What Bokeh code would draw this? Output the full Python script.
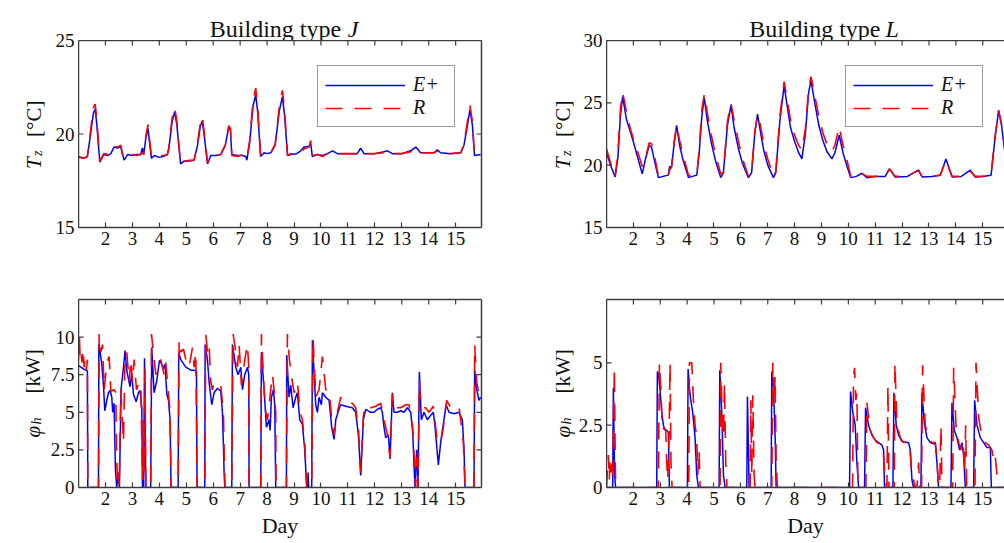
import math
from bokeh.plotting import figure
from bokeh.models import (Range1d, FixedTicker, LinearAxis, Legend,
                          LegendItem, CustomJSTickFormatter)
from bokeh.core.properties import value
from bokeh.layouts import column, row
from bokeh.embed import file_html
from bokeh.resources import INLINE

# ---------------- data ----------------
day_ticks = [2, 3, 4, 5, 6, 7, 8, 9, 10, 11, 12, 13, 14, 15]
tz_ticks_j = [15, 20, 25]
tz_ticks_l = [15, 20, 25, 30]
ph_ticks_j = [0, 2.5, 5, 7.5, 10]
ph_ticks_l = [0, 2.5, 5]

# Building J, zone temperature
tj_day = [1.0, 1.2, 1.33, 1.45, 1.55, 1.62, 1.68, 1.79, 1.94, 2.1,
          2.2, 2.32, 2.45, 2.57, 2.62, 2.69, 2.82, 3.0, 3.15, 3.31,
          3.37, 3.42, 3.5, 3.58, 3.64, 3.71, 3.81, 4.0, 4.15, 4.30,
          4.36, 4.47, 4.57, 4.65, 4.79, 4.92, 5.1, 5.29, 5.42, 5.52,
          5.59, 5.66, 5.79, 5.91, 6.1, 6.28, 6.38, 6.45, 6.58, 6.64,
          6.69, 6.9, 7.1, 7.21, 7.25, 7.35, 7.48, 7.58, 7.65, 7.76,
          7.89, 8.0, 8.14, 8.3, 8.45, 8.57, 8.65, 8.76, 8.88, 9.1,
          9.25, 9.37, 9.56, 9.62, 9.68, 9.87, 10.05, 10.24, 10.43, 10.61,
          11.0, 11.35, 11.47, 11.6, 12.0, 12.34, 12.47, 12.65, 13.0, 13.33,
          13.52, 13.7, 14.2, 14.32, 14.44, 14.8, 15.19, 15.31, 15.42, 15.53,
          15.62, 15.70, 15.93]
tj_e = [18.75, 18.7, 18.8, 20.0, 21.1, 21.35, 20.5, 18.5, 18.9, 18.85,
        18.95, 19.3, 19.25, 19.3, 19.0, 18.6, 18.9, 18.85, 18.9, 18.9,
        19.25, 18.9, 19.8, 20.3, 19.5, 18.7, 18.85, 18.75, 18.8, 18.9,
        19.3, 20.6, 21.2, 20.5, 18.4, 18.55, 18.55, 18.6, 19.4, 20.4,
        20.7, 20.0, 18.4, 18.85, 18.85, 18.9, 19.2, 19.4, 20.4, 20.2,
        18.9, 18.85, 18.85, 18.8, 18.6, 19.5, 21.5, 22.1, 21.2, 18.8,
        19.0, 18.95, 19.0, 19.4, 21.2, 22.0, 21.0, 18.85, 18.9, 18.95,
        19.1, 19.3, 19.35, 19.5, 18.8, 18.9, 18.85, 18.95, 19.1, 18.95,
        18.95, 18.95, 19.25, 18.95, 18.95, 19.05, 19.1, 18.95, 18.95, 19.1,
        19.3, 19.0, 19.0, 19.15, 19.0, 18.95, 19.0, 19.4, 20.3, 21.3,
        20.5, 18.85, 18.9]
tj_r = [18.8, 18.7, 18.8, 20.2, 21.4, 21.6, 20.8, 18.55, 18.95, 18.9,
        18.95, 19.35, 19.3, 19.4, 19.0, 18.7, 18.85, 18.9, 18.85, 18.9,
        19.0, 18.9, 19.9, 20.5, 19.7, 18.75, 18.85, 18.8, 18.85, 18.9,
        19.3, 20.8, 21.43, 20.7, 18.4, 18.5, 18.6, 18.6, 19.5, 20.6,
        20.94, 20.2, 18.45, 18.85, 18.85, 18.9, 19.2, 19.4, 20.45, 20.3,
        18.85, 18.8, 18.9, 18.85, 18.7, 19.6, 21.8, 22.45, 21.5, 18.85,
        18.95, 18.95, 19.0, 19.45, 21.4, 22.33, 21.3, 18.85, 18.95, 18.9,
        19.0, 19.2, 19.3, 19.65, 18.85, 18.9, 18.8, 18.95, 19.0, 18.95,
        18.95, 18.95, 19.1, 18.95, 18.95, 19.0, 19.05, 18.95, 18.95, 19.05,
        19.2, 19.0, 19.0, 19.1, 19.0, 18.95, 19.0, 19.5, 20.5, 21.52,
        20.7, 18.9, 18.9]

# Building L, zone temperature
tl_day = [1.0, 1.15, 1.32, 1.42, 1.52, 1.60, 1.75, 1.9, 2.05, 2.2,
          2.33, 2.45, 2.59, 2.68, 2.8, 2.93, 3.1, 3.30, 3.35, 3.42,
          3.52, 3.61, 3.72, 3.85, 4.05, 4.2, 4.36, 4.45, 4.55, 4.64,
          4.75, 4.9, 5.05, 5.25, 5.35, 5.5, 5.63, 5.75, 5.9, 6.05,
          6.28, 6.4, 6.52, 6.62, 6.72, 6.85, 7.0, 7.21, 7.3, 7.45,
          7.61, 7.72, 7.85, 8.0, 8.15, 8.27, 8.4, 8.52, 8.61, 8.75,
          8.9, 9.05, 9.2, 9.39, 9.5, 9.66, 9.8, 9.95, 10.09, 10.3,
          10.5, 10.69, 11.0, 11.37, 11.53, 11.74, 12.2, 12.61, 12.74, 13.1,
          13.42, 13.63, 13.86, 14.2, 14.54, 14.72, 15.0, 15.31, 15.45, 15.59,
          15.7, 15.80, 15.95]
tl_e = [21.0, 20.0, 19.05, 20.5, 24.0, 25.5, 23.6, 22.6, 21.5, 20.3,
        19.3, 20.5, 21.6, 21.4, 20.2, 19.0, 19.1, 19.2, 19.9, 19.8,
        21.8, 23.2, 21.6, 20.4, 19.0, 19.1, 19.2, 21.0, 24.0, 25.4,
        23.6, 21.8, 20.4, 19.0, 19.4, 23.2, 24.8, 23.0, 21.4, 20.2,
        19.0, 19.4, 22.6, 24.1, 22.8, 21.2, 20.0, 19.0, 19.4, 23.5,
        26.4, 24.8, 23.0, 21.9, 21.0, 20.5, 22.5, 25.8, 26.8, 25.0,
        23.2, 22.0, 21.1, 20.5, 21.0, 22.4, 21.0, 19.9, 19.0, 19.1,
        19.35, 19.0, 19.1, 19.1, 19.7, 19.05, 19.1, 19.6, 19.05, 19.1,
        19.2, 20.5, 19.05, 19.1, 19.6, 19.05, 19.1, 19.2, 22.0, 24.4,
        23.2, 21.4, 20.0]
tl_r = [21.3, 20.2, 19.1, 20.8, 24.5, 25.85, 24.2, 22.8, 21.8, 20.8,
        19.9, 20.6, 21.8, 21.7, 20.6, 19.1, 19.1, 19.2, 19.6, 19.9,
        21.9, 23.2, 22.0, 20.8, 19.2, 19.1, 19.2, 21.3, 24.5, 25.7,
        24.2, 22.4, 20.9, 19.3, 19.4, 23.5, 25.0, 23.6, 22.0, 20.6,
        19.1, 19.5, 22.7, 24.0, 23.3, 21.7, 20.5, 19.1, 19.5, 23.9,
        26.7, 25.3, 23.6, 22.4, 21.6, 21.2, 22.9, 26.1, 27.1, 25.6,
        23.9, 22.6, 21.7, 21.1, 21.6, 23.1, 21.6, 20.4, 19.1, 19.1,
        19.35, 19.1, 19.1, 19.1, 19.7, 19.1, 19.1, 19.6, 19.1, 19.1,
        19.2, 20.4, 19.1, 19.1, 19.5, 19.1, 19.1, 19.2, 22.2, 24.4,
        23.3, 21.8, 20.3]

# Building J, heating power (E+)
hj_day_e = [1.00, 1.087, 1.21, 1.33, 1.345, 1.742, 1.755, 1.865, 1.93, 1.976,
            2.05, 2.113, 2.173, 2.236, 2.27, 2.32, 2.373, 2.42, 2.48, 2.52,
            2.58, 2.67, 2.73, 2.79, 2.855, 2.915, 2.978, 3.04, 3.14, 3.226,
            3.286, 3.35, 3.375, 3.42, 3.45, 3.50, 3.68, 3.72, 3.806, 3.905,
            4.005, 4.09, 4.15, 4.21, 4.28, 4.34, 4.40, 4.435, 4.70, 4.72,
            4.797, 4.983, 5.168, 5.292, 5.38, 5.40, 5.688, 5.70, 5.787, 5.848,
            5.947, 6.034, 6.158, 6.281, 6.343, 6.38, 6.405, 6.43, 6.69, 6.714,
            6.838, 6.925, 7.024, 7.085, 7.172, 7.271, 7.32, 7.333, 7.766, 7.79,
            7.889, 7.976, 8.075, 8.112, 8.161, 8.236, 8.285, 8.322, 8.718, 8.73,
            8.817, 8.879, 8.965, 9.064, 9.126, 9.213, 9.312, 9.398, 9.473, 9.51,
            9.522, 9.545, 9.658, 9.683, 9.806, 9.868, 9.93, 10.017, 10.054, 10.178,
            10.301, 10.40, 10.487, 10.549, 10.635, 10.734, 10.92, 11.167, 11.291, 11.39,
            11.476, 11.575, 11.662, 11.847, 11.971, 12.095, 12.218, 12.28, 12.342, 12.404,
            12.503, 12.565, 12.651, 12.713, 12.837, 12.96, 13.084, 13.208, 13.332, 13.406,
            13.455, 13.493, 13.554, 13.603, 13.653, 13.727, 13.826, 13.949, 14.073, 14.172,
            14.221, 14.296, 14.358, 14.445, 14.507, 14.568, 14.643, 14.754, 14.939, 15.125,
            15.249, 15.311, 15.348, 15.682, 15.707, 15.781, 15.868, 15.929]
hj_e = [8.1, 8.0, 7.85, 7.75, 0, 0, 9.55, 8.2, 6.7, 5.1,
        5.8, 6.3, 6.45, 6.0, 5.0, 5.6, 1.1, 0, 1.0, 0,
        6.55, 8.0, 9.1, 7.8, 7.2, 6.7, 7.6, 6.2, 5.7, 6.3,
        6.45, 5.3, 0, 0, 8.6, 0, 0, 9.3, 6.3, 7.1,
        8.45, 8.2, 7.9, 8.2, 6.2, 5.8, 4.5, 0, 0, 9.0,
        8.5, 8.0, 7.8, 7.8, 7.7, 0, 0, 9.5, 8.5, 7.0,
        5.5, 6.3, 6.6, 6.4, 5.0, 2.8, 1.0, 0, 0, 9.5,
        8.0, 7.5, 8.0, 6.5, 7.5, 8.0, 7.5, 0, 0, 9.0,
        6.5, 4.0, 4.5, 3.8, 6.0, 6.5, 5.5, 0, 0, 8.8,
        6.0, 6.8, 5.3, 6.0, 6.3, 4.5, 4.2, 2.5, 0, 0,
        1.0, 0, 0, 9.8, 5.5, 5.0, 6.0, 5.5, 6.3, 6.0,
        5.8, 4.0, 3.2, 4.5, 5.0, 5.5, 5.4, 5.3, 5.0, 3.5,
        0.8, 4.5, 5.2, 5.0, 5.0, 5.2, 5.3, 5.0, 4.0, 3.3,
        3.5, 1.9, 6.3, 5.0, 5.0, 5.1, 5.0, 5.3, 5.0, 3.7,
        1.5, 0, 2.5, 0, 7.7, 4.5, 5.0, 4.5, 4.8, 5.0,
        4.3, 2.8, 1.5, 3.0, 3.8, 4.5, 5.5, 5.0, 4.9, 5.0,
        4.5, 2.5, 0, 0, 7.8, 6.5, 5.8, 6.0]

# Building J, heating power (R)
hj_day_r = [1.00, 1.03, 1.06, 1.09, 1.13, 1.17, 1.21, 1.25, 1.29, 1.33,
            1.345, 1.742, 1.767, 1.829, 1.891, 1.952, 2.051, 2.138, 2.20, 2.323,
            2.385, 2.41, 2.447, 2.472, 2.509, 2.571, 2.67, 2.719, 2.793, 2.88,
            2.942, 3.004, 3.066, 3.152, 3.251, 3.313, 3.35, 3.375, 3.41, 3.44,
            3.47, 3.50, 3.68, 3.709, 3.808, 3.87, 3.956, 4.055, 4.179, 4.241,
            4.30, 4.40, 4.435, 4.70, 4.735, 4.797, 4.896, 4.983, 5.106, 5.23,
            5.292, 5.354, 5.40, 5.688, 5.725, 5.787, 5.848, 5.91, 5.972, 6.034,
            6.158, 6.281, 6.38, 6.405, 6.44, 6.69, 6.739, 6.801, 6.90, 6.962,
            7.048, 7.172, 7.271, 7.32, 7.333, 7.766, 7.79, 7.889, 7.951, 8.013,
            8.199, 8.26, 8.322, 8.334, 8.718, 8.755, 8.829, 8.94, 9.002, 9.126,
            9.225, 9.312, 9.398, 9.473, 9.658, 9.708, 9.806, 9.93, 10.054, 10.178,
            10.301, 10.40, 10.487, 10.61, 10.734, 10.92, 11.167, 11.291, 11.39, 11.476,
            11.575, 11.662, 11.847, 12.033, 12.218, 12.342, 12.466, 12.565, 12.651, 12.775,
            12.96, 13.146, 13.27, 13.406, 13.517, 13.554, 13.603, 13.653, 13.727, 13.888,
            14.011, 14.172, 14.321, 14.445, 14.544, 14.667, 14.816, 15.125, 15.286, 15.348,
            15.682, 15.707, 15.781, 15.868, 15.929]
hj_r = [8.5, 10.2, 8.6, 9.0, 8.3, 9.2, 8.0, 8.6, 7.8, 8.5,
        0, 0, 10.2, 9.0, 9.5, 6.5, 8.3, 8.7, 6.4, 6.5,
        6.3, 2.5, 0.2, 1.0, 0, 6.5, 3.0, 8.0, 9.0, 7.0,
        8.5, 7.0, 8.5, 6.5, 7.0, 6.8, 3.0, 0.5, 4.5, 1.0,
        7.9, 0, 0, 10.2, 8.5, 7.5, 8.3, 8.5, 7.5, 8.3,
        7.0, 5.0, 0, 0, 9.8, 9.0, 9.2, 8.5, 8.0, 9.3,
        8.0, 9.0, 0, 0, 10.2, 9.0, 9.5, 7.0, 6.5, 7.0,
        7.0, 6.8, 5.0, 2.5, 0, 0, 10.2, 9.5, 8.0, 9.5,
        6.8, 8.5, 9.5, 8.0, 0, 0, 10.2, 6.5, 5.0, 4.5,
        7.5, 6.5, 5.0, 0, 0, 10.2, 8.5, 7.0, 6.3, 7.0,
        5.0, 4.5, 3.0, 0, 0, 10.0, 6.0, 6.5, 8.7, 6.5,
        6.5, 4.5, 3.5, 5.0, 6.0, 5.6, 5.6, 5.3, 4.0, 1.0,
        4.8, 5.5, 5.3, 5.4, 5.6, 4.5, 3.5, 2.0, 6.2, 5.3,
        5.3, 5.5, 5.5, 4.0, 0, 2.0, 0, 7.0, 5.3, 5.3,
        5.0, 5.4, 3.0, 3.0, 4.0, 5.8, 5.3, 5.4, 3.0, 0,
        0, 9.5, 7.0, 6.2, 6.5]

# Building L, heating power (E+)
hl_day_e = [1.00, 1.23, 1.255, 1.30, 1.34, 2.868, 2.893, 2.94, 2.993, 3.055,
            3.117, 3.179, 3.241, 3.303, 3.34, 4.011, 4.036, 4.085, 4.135, 4.209,
            4.296, 4.358, 4.42, 5.19, 5.215, 5.29, 5.352, 5.413, 6.22, 6.245,
            6.307, 7.126, 7.151, 7.214, 7.276, 7.313, 10.044, 10.081, 10.168, 10.255,
            10.317, 10.38, 10.603, 10.64, 10.752, 10.876, 11.0, 11.124, 11.248, 11.31,
            11.347, 11.658, 11.695, 11.782, 11.869, 11.993, 12.117, 12.242, 12.304, 12.366,
            12.428, 12.7, 12.738, 12.825, 12.924, 13.048, 13.172, 13.234, 13.297, 13.359,
            13.818, 13.855, 13.942, 14.041, 14.14, 14.227, 14.289, 14.352, 14.662, 14.699,
            14.786, 14.91, 15.034, 15.158, 15.283, 15.32, 15.95]
hl_e = [0, 0, 4.0, 0.5, 0, 0, 4.65, 4.5, 3.9, 3.0,
        2.5, 2.3, 2.3, 2.2, 0, 0, 4.75, 4.0, 3.5, 3.0,
        2.0, 0.5, 0, 0, 4.7, 3.0, 0.5, 0, 0, 3.65,
        0, 0, 4.65, 4.0, 2.0, 0, 0, 3.85, 3.0, 2.5,
        1.0, 0, 0, 3.2, 2.5, 2.1, 1.9, 1.8, 1.7, 1.5,
        0, 0, 3.8, 2.5, 2.1, 1.85, 1.8, 1.8, 1.5, 0.3,
        0, 0, 3.8, 2.6, 2.0, 1.8, 1.75, 1.8, 1.0, 0,
        0, 3.4, 2.3, 2.0, 1.5, 1.8, 1.3, 0, 0, 3.5,
        2.5, 2.0, 1.8, 1.6, 1.6, 0, 0]

# Building L, heating power (R)
hl_day_r = [1.00, 1.068, 1.106, 1.13, 1.168, 1.205, 1.23, 1.267, 1.292, 1.317,
            1.341, 2.93, 2.968, 3.03, 3.079, 3.142, 3.204, 3.241, 3.278, 3.328,
            3.365, 3.40, 3.44, 4.06, 4.085, 4.172, 4.234, 4.296, 4.358, 4.395,
            4.445, 4.482, 5.227, 5.251, 5.301, 5.352, 5.388, 5.437, 5.482, 6.345,
            6.37, 6.407, 6.444, 6.493, 6.531, 7.151, 7.189, 7.238, 7.276, 7.313,
            7.362, 10.155, 10.193, 10.23, 10.28, 10.317, 10.355, 10.405, 10.441, 10.652,
            10.689, 10.813, 10.937, 11.062, 11.186, 11.286, 11.373, 11.435, 11.472, 11.509,
            11.708, 11.733, 11.807, 11.931, 12.055, 12.18, 12.279, 12.366, 12.428, 12.49,
            12.552, 12.614, 12.651, 12.725, 12.762, 12.862, 12.986, 13.11, 13.234, 13.297,
            13.334, 13.397, 13.446, 13.483, 13.88, 13.918, 14.004, 14.104, 14.19, 14.265,
            14.327, 14.365, 14.402, 14.712, 14.749, 14.849, 14.973, 15.097, 15.221, 15.345,
            15.407, 15.469, 15.531, 15.593, 15.95]
hl_r = [0, 1.3, 0.3, 1.2, 0.6, 1.0, 0.5, 3.0, 4.8, 2.0,
        0, 0, 5.0, 3.8, 2.3, 2.4, 2.3, 1.0, 0.3, 2.0,
        5.0, 1.0, 0, 0, 5.0, 5.0, 3.5, 2.5, 2.0, 0.5,
        1.5, 0, 0, 5.0, 3.0, 2.0, 4.2, 1.0, 0, 0,
        3.5, 0.5, 3.7, 0.5, 0, 0, 5.0, 3.5, 4.5, 1.0,
        0, 0, 4.4, 4.8, 3.5, 3.8, 0.3, 0.3, 0, 0,
        3.4, 2.3, 2.0, 1.8, 1.75, 1.6, 0.3, 0, 4.1, 0,
        0, 5.0, 2.5, 2.0, 1.8, 1.85, 1.8, 0.4, 0.3, 0,
        0, 1.0, 0, 0, 4.9, 2.5, 2.0, 1.8, 1.8, 1.2,
        0.3, 0, 2.5, 0, 0, 4.8, 2.5, 1.8, 1.5, 1.9,
        0.6, 2.5, 0, 0, 5.0, 2.8, 2.0, 1.8, 1.7, 1.5,
        1.0, 1.2, 0.5, 0, 0]

# ---------------- styling ----------------
FONT = "Liberation Serif"
AXC = "#3c3c3c"
TXT = "#111111"
BLUE = "#0000ff"
RED = "#ff0000"
DASH = "17 12"
V = math.pi / 2
TICK_FS = "19px"

fmt = CustomJSTickFormatter(code="return tick.toString();")


def bare_axis():
    ax = LinearAxis(ticker=FixedTicker(ticks=[]))
    ax.axis_line_color = AXC
    ax.axis_line_width = 1.5
    ax.major_tick_in = 0
    ax.major_tick_out = 0
    ax.minor_tick_in = 0
    ax.minor_tick_out = 0
    ax.major_label_standoff = 0
    return ax


def edge_ticks(p, xs, ys, vertical):
    p.scatter(xs, ys, marker="dash", size=10, angle=V if vertical else 0.0,
              line_color=AXC, line_width=1.2)


def make_panel(xend, yr, yticks, frame_w, frame_h, right, top, bottom,
               right_axis, xlabel):
    p = figure(frame_width=frame_w, frame_height=frame_h,
               min_border_left=0, min_border_right=right,
               min_border_top=top, min_border_bottom=bottom,
               x_range=Range1d(1, xend), y_range=Range1d(*yr),
               y_axis_location=None,
               output_backend="svg", toolbar_location=None,
               background_fill_color="white", border_fill_color="white")
    p.outline_line_color = None
    p.xgrid.visible = False
    p.ygrid.visible = False
    bx = p.below[0]
    bx.ticker = FixedTicker(ticks=day_ticks)
    bx.formatter = fmt
    bx.axis_line_color = AXC
    bx.axis_line_width = 1.5
    bx.major_tick_line_color = AXC
    bx.major_tick_line_width = 1.2
    bx.major_tick_in = 5
    bx.major_tick_out = 0
    bx.minor_tick_in = 0
    bx.minor_tick_out = 0
    bx.major_label_text_font = FONT
    bx.major_label_text_color = TXT
    bx.major_label_standoff = 4
    bx.major_label_text_font_size = TICK_FS
    p.add_layout(bare_axis(), "left")
    p.add_layout(bare_axis(), "above")
    edge_ticks(p, [1] * len(yticks), yticks, False)
    edge_ticks(p, day_ticks, [yr[1]] * len(day_ticks), True)
    if right_axis:
        p.add_layout(bare_axis(), "right")
        edge_ticks(p, [xend] * len(yticks), yticks, False)
    if xlabel:
        bx.axis_label = "Day"
        bx.axis_label_text_font = FONT
        bx.axis_label_text_font_style = "normal"
        bx.axis_label_text_font_size = "22px"
        bx.axis_label_text_color = TXT
        bx.axis_label_standoff = 5
    return p


def add_series(p, xe, ye, xr, yr_, legend):
    rb = p.line(xe, ye, line_color=BLUE, line_width=1.5)
    rr = p.line(xr, yr_, line_color=RED, line_width=1.6, line_dash=DASH)
    if legend:
        lg = Legend(items=[LegendItem(label="E+", renderers=[rb]),
                           LegendItem(label="R", renderers=[rr])],
                    location=(239, 100))
        lg.label_text_font = FONT
        lg.label_text_font_style = "italic"
        lg.label_text_font_size = "20px"
        lg.label_text_color = TXT
        lg.glyph_width = 80
        lg.glyph_height = 20
        lg.label_height = 20
        lg.label_width = 34
        lg.label_standoff = 8
        lg.spacing = 0
        lg.padding = 7
        lg.margin = 0
        lg.border_line_color = AXC
        lg.border_line_width = 1.5
        lg.background_fill_color = "white"
        lg.background_fill_alpha = 1.0
        p.add_layout(lg, "center")


def text_fig(w, h, yrange=None):
    yr = Range1d(0, h) if yrange is None else Range1d(*yrange)
    f = figure(width=w, height=h, x_range=Range1d(0, w), y_range=yr,
               min_border=0, min_border_left=0, min_border_right=0,
               min_border_top=0, min_border_bottom=0,
               x_axis_location=None, y_axis_location=None,
               output_backend="svg", toolbar_location=None,
               background_fill_color="white", border_fill_color="white")
    f.outline_line_color = None
    f.grid.visible = False
    return f


def txt(f, x, y, s, size, italic=False, angle=0.0, align="left",
        baseline="alphabetic", yoff=0):
    f.text(x=x if isinstance(x, list) else [x],
           y=y if isinstance(y, list) else [y],
           text=s if isinstance(s, list) else [s], angle=angle,
           text_font=value(FONT), text_font_size=value(size),
           text_font_style=value("italic" if italic else "normal"),
           text_color=TXT, text_align=value(align),
           text_baseline=value(baseline), y_offset=yoff)


def side_strip(w, h, yr, yticks, frame_h, top, bottom, sym, sub, unit,
               base_x, offs):
    """Strip left of a panel: y tick labels + y axis title, on the panel's y scale."""
    upp = (yr[1] - yr[0]) / frame_h
    f = text_fig(w, h, (yr[0] - bottom * upp, yr[1] + top * upp))
    txt(f, [w - 4] * len(yticks), list(yticks),
        [("%g" % t) for t in yticks], TICK_FS, align="right", baseline="middle")
    mid = (yr[0] + yr[1]) / 2
    txt(f, base_x, mid, sym, "21px", italic=True, angle=V, yoff=offs[0])
    txt(f, base_x + 4, mid, sub, "14px", italic=True, angle=V, yoff=offs[1])
    txt(f, base_x, mid, unit, "21px", angle=V, yoff=offs[2])
    return f


# ---------------- title strips ----------------
title_j = text_fig(422, 40)
txt(title_j, 275, 12, "Building type", "24px", align="right")
txt(title_j, 282, 12, "J", "24px", italic=True)
title_l = text_fig(398, 40)
txt(title_l, 274, 12, "Building type", "24px", align="right")
txt(title_l, 279, 12, "L", "24px", italic=True)

# ---------------- panels ----------------
p1 = make_panel(15.96, (15, 25), tz_ticks_j, 403, 187, 19, 0, 43, True, False)
add_series(p1, tj_day, tj_e, tj_day, tj_r, True)

p2 = make_panel(15.81, (15, 30), tz_ticks_l, 398, 187, 0, 0, 43, False, False)
add_series(p2, tl_day, tl_e, tl_day, tl_r, True)

p3 = make_panel(15.96, (0, 12.5), ph_ticks_j, 403, 188, 19, 29, 56, True, True)
add_series(p3, hj_day_e, hj_e, hj_day_r, hj_r, False)

p4 = make_panel(15.81, (0, 7.54), ph_ticks_l, 398, 188, 0, 29, 56, False, True)
add_series(p4, hl_day_e, hl_e, hl_day_r, hl_r, False)

# ---------------- side strips (tick labels + axis titles) ----------------
s1 = side_strip(78, 270, (15, 25), tz_ticks_j, 187, 40, 43,
                "T", "z", "[°C]", 33, (35, 22, 3))
s2 = side_strip(106, 270, (15, 30), tz_ticks_l, 187, 40, 43,
                "T", "z", "[°C]", 62, (35, 22, 3))
s3 = side_strip(78, 273, (0, 12.5), ph_ticks_j, 188, 29, 56,
                "φ", "h", "[kW]", 32, (44, 31, 0))
s4 = side_strip(106, 273, (0, 7.54), ph_ticks_l, 188, 29, 56,
                "φ", "h", "[kW]", 62, (44, 31, 0))

layout = column(
    row(s1, column(title_j, p1, spacing=0), s2, column(title_l, p2, spacing=0),
        spacing=0),
    row(s3, column(p3), s4, column(p4), spacing=0),
    spacing=0,
)

open("out.html", "w").write(file_html(layout, INLINE))
